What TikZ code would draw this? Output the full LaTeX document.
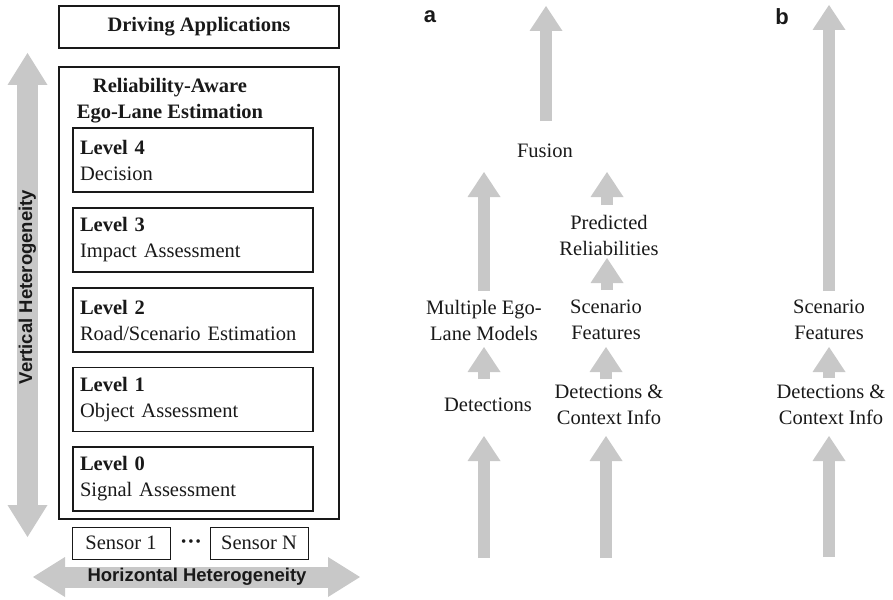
\documentclass[tikz,border=0pt]{standalone}
\usepackage{fontspec}
\setmainfont{Liberation Serif}
\newfontfamily\labelsans{Liberation Sans}
\usetikzlibrary{arrows.meta}
\definecolor{flowgray}{RGB}{200,200,200}
\definecolor{ink}{RGB}{25,25,25}
\begin{document}
\begin{tikzpicture}[x=1pt,y=-1pt,
  every node/.style={font=\fontsize{20.5}{26}\selectfont, text=ink},
  thickbox/.style={draw=ink, line width=2.2pt, minimum width=280pt, inner sep=0pt},
  levelbox/.style={draw=ink, line width=1.2pt, minimum width=240pt, minimum height=64pt,
    text width=226pt, align=left, inner sep=7pt},
  sensorbox/.style={draw=ink, line width=1pt, minimum width=98pt, minimum height=32pt, inner sep=0pt},
  txt/.style={align=center, inner sep=0pt},
  heading/.style={font=\labelsans\bfseries\fontsize{18.5}{22}\selectfont, inner sep=0pt},
  panel/.style={font=\labelsans\bfseries\fontsize{22}{26}\selectfont, inner sep=0pt},
  flow/.style={draw=flowgray, line width=12pt,
    -{Triangle[width=33pt,length=25pt,line width=0pt]}},
  hetero/.style={draw=flowgray, line width=21pt,
    {Triangle[width=40pt,length=32pt,line width=0pt]}-{Triangle[width=40pt,length=32pt,line width=0pt]}}
]
\useasboundingbox (0,0) rectangle (893,599);

% ---------- left: layered architecture ----------
\coordinate (vtop) at (27.5,53);
\coordinate (vbot) at (27.5,537);
\coordinate (hleft) at (33,577);
\coordinate (hright) at (360,577);
\draw[hetero] (vbot) -- (vtop);
\draw[hetero] (hleft) -- (hright);
\node[heading, rotate=90] (vlabel) at (27.5,287) {Vertical Heterogeneity};
\node[heading] (hlabel) at (197,577) {Horizontal Heterogeneity};

\node[thickbox, minimum height=42pt, font=\bfseries\fontsize{20.5}{26}\selectfont] (apps) at (199,27) {Driving Applications};
\node[thickbox, minimum height=452pt] (ego) at (199,293) {};
\node[txt, font=\bfseries\fontsize{20.5}{26}\selectfont] (egotitle) at (170,101) {Reliability-Aware\\Ego-Lane Estimation};

\node[levelbox] (l4) at (193,160) {\textbf{Level 4}\\Decision};
\node[levelbox] (l3) at (193,240) {\textbf{Level 3}\\Impact Assessment};
\node[levelbox] (l2) at (193,320) {\textbf{Level 2}\\Road/Scenario Estimation};
\node[levelbox] (l1) at (193,399.5) {\textbf{Level 1}\\Object Assessment};
\node[levelbox] (l0) at (193,479) {\textbf{Level 0}\\Signal Assessment};

\node[sensorbox] (s1) at (121,543) {Sensor 1};
\node[sensorbox] (sN) at (259,543) {Sensor N};
\node[inner sep=0pt, font=\fontsize{15}{15}\selectfont] (dots) at (191,543) {•\hspace{2pt}•\hspace{2pt}•};

% ---------- panel a ----------
\node[panel] (pa) at (430,17) {a};
\node[txt] (fus) at (545,151) {Fusion};
\node[txt] (pred) at (609,235) {Predicted\\Reliabilities};
\node[txt] (mult) at (484,320) {Multiple Ego-\\Lane Models};
\node[txt] (scena) at (606,320) {Scenario\\Features};
\node[txt] (deta) at (488,405) {Detections};
\node[txt] (ctxa) at (609,405) {Detections \&\\Context Info};

\coordinate (aout) at (546,6);
\coordinate (afus) at (546,121);
\coordinate (amtop) at (484,172);
\coordinate (ambot) at (484,291);
\coordinate (aptop) at (607,172);
\coordinate (apbot) at (607,205);
\coordinate (astop) at (607,258);
\coordinate (asbot) at (607,290);
\coordinate (adtop) at (484,347);
\coordinate (adbot) at (484,379);
\coordinate (actop) at (606,347);
\coordinate (acbot) at (606,379);
\coordinate (ainl) at (484,558);
\coordinate (ainlt) at (484,436);
\coordinate (ainr) at (606,558);
\coordinate (ainrt) at (606,436);

\draw[flow] (afus) -- (aout);
\draw[flow] (ambot) -- (amtop);
\draw[flow] (apbot) -- (aptop);
\draw[flow] (asbot) -- (astop);
\draw[flow] (adbot) -- (adtop);
\draw[flow] (acbot) -- (actop);
\draw[flow] (ainl) -- (ainlt);
\draw[flow] (ainr) -- (ainrt);

% ---------- panel b ----------
\node[panel] (pb) at (782,17) {b};
\node[txt] (scenb) at (829,320) {Scenario\\Features};
\node[txt] (ctxb) at (831,405) {Detections \&\\Context Info};

\coordinate (bout) at (829,5);
\coordinate (bstop) at (829,291);
\coordinate (bctop) at (829,347);
\coordinate (bcbot) at (829,378);
\coordinate (bin) at (829,557);
\coordinate (bintop) at (829,436);

\draw[flow] (bstop) -- (bout);
\draw[flow] (bcbot) -- (bctop);
\draw[flow] (bin) -- (bintop);
\end{tikzpicture}
\end{document}
